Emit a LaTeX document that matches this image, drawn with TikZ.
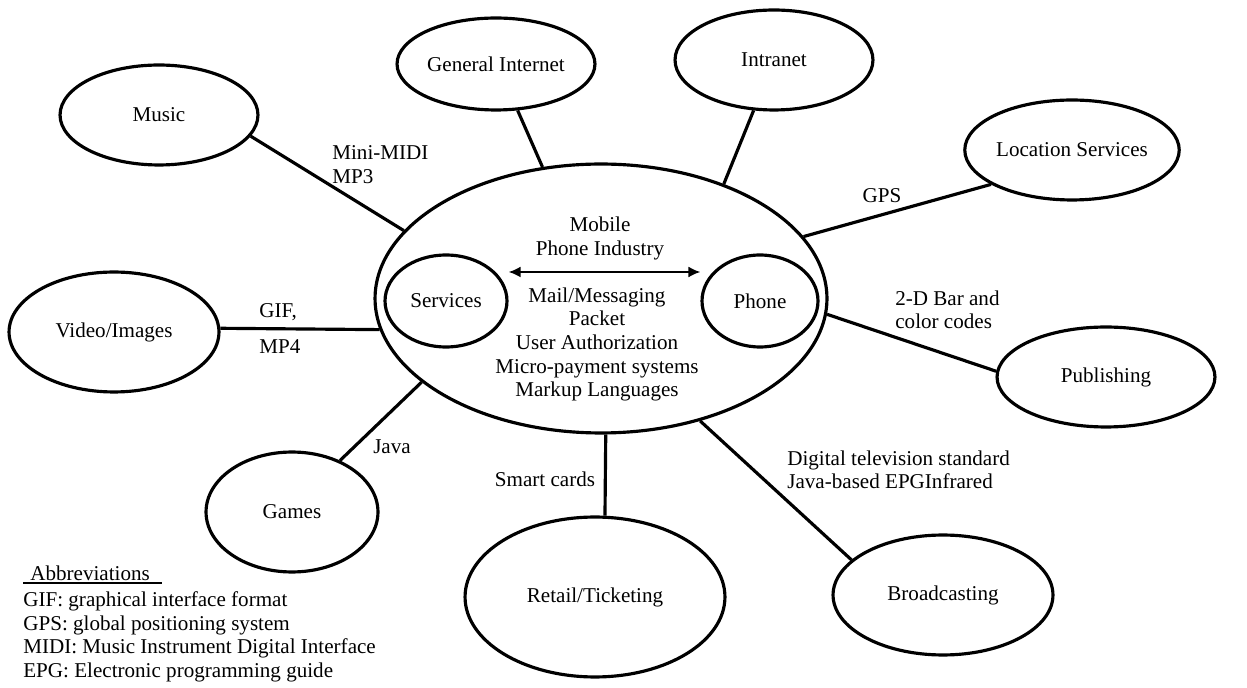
\documentclass[tikz,border=0pt]{standalone}
\usepackage{fontspec}
\setmainfont{Liberation Serif}
\usetikzlibrary{arrows.meta,shapes.geometric,calc}
\tikzset{
  hubnode/.style={ellipse, draw, line width=1.8pt, inner sep=0pt},
  satnode/.style={ellipse, draw, line width=1.8pt, inner sep=0pt,
    font=\fontsize{12}{13.4}\selectfont},
  linkln/.style={line width=1.8pt},
  duoarrow/.style={{Latex[length=2.4mm,width=2.2mm]}-{Latex[length=2.4mm,width=2.2mm]}, line width=1.2pt},
  lbl/.style={inner sep=0pt, font=\fontsize{12}{13.4}\selectfont},
}

\begin{document}
\begin{tikzpicture}[x=0.02cm, y=-0.02cm]
    \useasboundingbox (0,0) rectangle (1247,688);
    % the industry in the middle
    \node[hubnode, minimum width=9.04cm, minimum height=5.38cm] (main) at (601,298.5) {};
    \node[satnode, minimum width=2.44cm, minimum height=1.84cm] (services) at (446,301) {Services};
    \node[satnode, minimum width=2.32cm, minimum height=1.84cm] (phone) at (760,301) {Phone};
    \draw[duoarrow] (services.east |- 0,272) -- (phone.west |- 0,272);
    \node[lbl, align=center] (mobile) at (600,238.5) {Mobile\\Phone Industry};
    \node[lbl, align=center] (techs) at (597,344.5)
      {Mail/Messaging\\Packet\\User Authorization\\Micro-payment systems\\Markup Languages};
    % markets around it
    \def\sats{music/159/115/99/50/Music, ginet/496/64/99/46/General Internet,
              intranet/774/60/99/50/Intranet, location/1072/150/100/50/Location Services,
              publishing/1106/377/109/50/Publishing, broadcast/943/595/110/60/Broadcasting,
              retail/595/597/130/80/Retail\slash Ticketing, games/292/512/86/60/Games,
              video/114/332/105/60/Video\slash Images}
    \foreach \nm/\cx/\cy/\rx/\ry/\txt in \sats {
      \node[satnode, minimum width=\rx*0.04cm, minimum height=\ry*0.04cm] (\nm) at (\cx,\cy) {\txt};
    }
    % spokes
    \foreach \a/\b in {music.-13.6/main.161.9, ginet.-65.5/main.114.3,
        intranet.-112.8/main.43.2, location.-157.6/main.17.5,
        publishing.177.4/main.-4.9, broadcast.159.7/main.-51.1,
        retail.83/main.-88, games.47.4/main.-155.7, video.2.7/main.-172.7} {
      \draw[linkln] (\a) -- (\b);
    }
    % technologies on the spokes
    \node[lbl, anchor=west, align=left] (midi) at (332,164.5) {Mini-MIDI\\MP3};
    \node[lbl, anchor=west] (gif) at (259,312) {GIF,};
    \node[lbl, anchor=west] (mpfour) at (259,347) {MP4};
    \node[lbl] (gps) at (882,196) {GPS};
    \node[lbl, anchor=west, align=left] (barcode) at (895,310) {2-D Bar and\\color codes};
    \node[lbl, anchor=west, align=left] (dtv) at (787,470)
      {Digital television standard\\Java-based EPGInfrared};
    \node[lbl] (smart) at (545,479) {Smart cards};
    \node[lbl] (java) at (392,447) {Java};
    % abbreviations
    \node[lbl, anchor=west] (abbr) at (30,573) {Abbreviations};
    \coordinate (ulA) at (23,583);
    \coordinate (ulB) at (162,583);
    \draw[line width=0.7pt] (ulA) -- (ulB);
    \node[lbl, anchor=west, align=left] (abbrlist) at (23,637)
      {GIF: graphical interface format\\GPS: global positioning system\\
       MIDI: Music Instrument Digital Interface\\EPG: Electronic programming guide};
\end{tikzpicture}
\end{document}
